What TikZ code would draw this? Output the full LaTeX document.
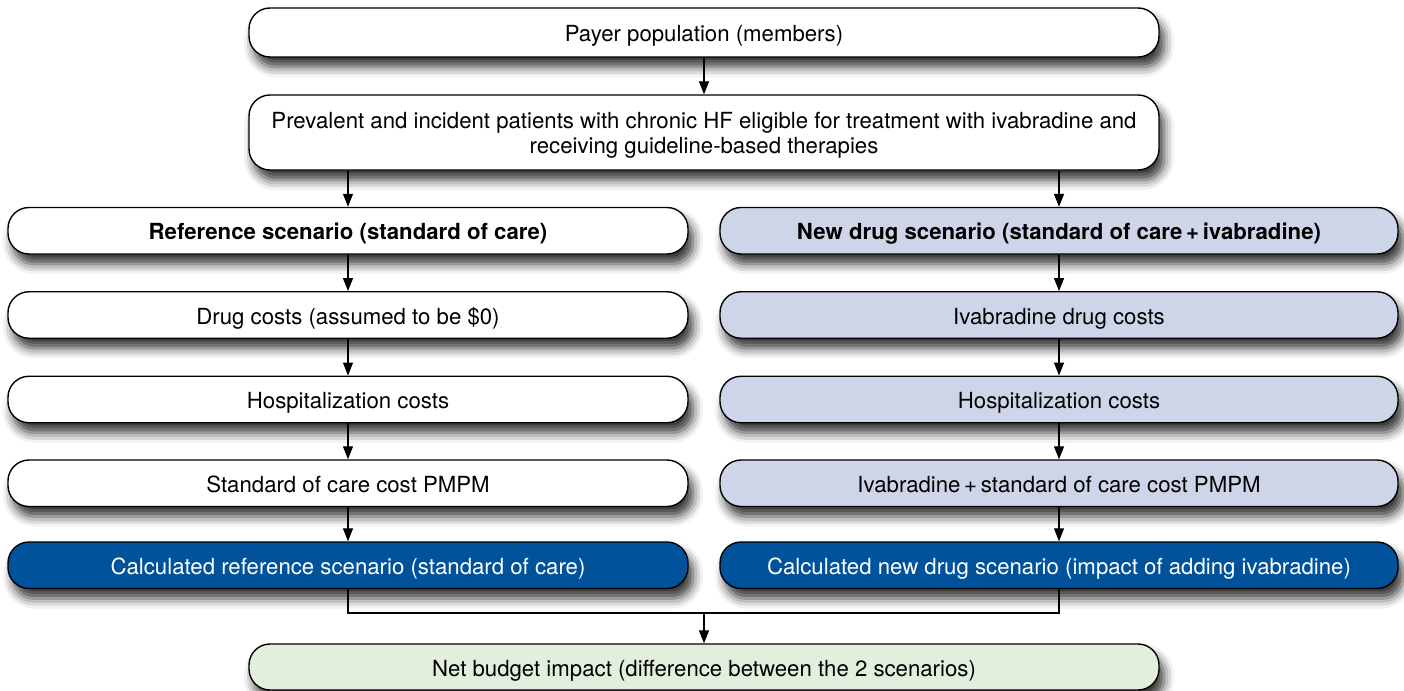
\documentclass[tikz,border=0pt]{standalone}
\usepackage{fontspec}
\setmainfont{TeX Gyre Heros}
\usetikzlibrary{arrows.meta,shadows.blur}
\definecolor{refblue}{RGB}{207,213,232}
\definecolor{calcblue}{RGB}{0,82,155}
\definecolor{netgreen}{RGB}{226,239,220}
\tikzset{
  flowbox/.style={draw=black, line width=1.4pt, rounded corners=21pt, fill=white,
    font=\fontsize{22.2}{25}\selectfont, align=center, inner sep=0pt,
    text height=18pt, text depth=0pt,
    blur shadow={shadow xshift=5pt, shadow yshift=-10pt, shadow blur radius=10pt, shadow opacity=80}},
  refbox/.style={flowbox, fill=refblue},
  calcbox/.style={flowbox, fill=calcblue, text=white},
  netbox/.style={flowbox, fill=netgreen},
  flowarrow/.style={draw=black, line width=1.2pt, -{Triangle[length=13pt,width=10pt]}},
  flowline/.style={draw=black, line width=1.2pt}
}
\begin{document}
\begin{tikzpicture}[x=1pt,y=-1pt]
\useasboundingbox (0,0) rectangle (1404,690);

% top of the flow
\node[flowbox, minimum width=910pt, minimum height=49pt] (payer) at (704,32.5) {Payer population (members)};
\node[flowbox, minimum width=910pt, minimum height=75pt, text height=42pt] (eligible) at (704,132.5)
  {Prevalent and incident patients with chronic HF eligible for treatment with ivabradine and\\receiving guideline-based therapies};

% reference scenario column
\node[flowbox, minimum width=680pt, minimum height=46.5pt] (refscen) at (348,230.75) {\bfseries Reference scenario (standard of care)};
\node[flowbox, minimum width=680pt, minimum height=46.5pt] (refdrug) at (348,315) {Drug costs (assumed to be \$0)};
\node[flowbox, minimum width=680pt, minimum height=46.5pt] (refhosp) at (348,399.5) {Hospitalization costs};
\node[flowbox, minimum width=680pt, minimum height=46.5pt] (refpmpm) at (348,483.25) {Standard of care cost PMPM};
\node[calcbox, minimum width=680pt, minimum height=46.5pt] (refcalc) at (348,565.25) {Calculated reference scenario (standard of care)};

% new drug scenario column
\node[refbox, minimum width=678pt, minimum height=46.5pt] (newscen) at (1059,230.75) {\bfseries New drug scenario (standard of care\,+\,ivabradine)};
\node[refbox, minimum width=678pt, minimum height=46.5pt] (newdrug) at (1059,315) {Ivabradine drug costs};
\node[refbox, minimum width=678pt, minimum height=46.5pt] (newhosp) at (1059,399.5) {Hospitalization costs};
\node[refbox, minimum width=678pt, minimum height=46.5pt] (newpmpm) at (1059,483.25) {Ivabradine\,+\,standard of care cost PMPM};
\node[calcbox, minimum width=678pt, minimum height=46.5pt] (newcalc) at (1059,565.25) {Calculated new drug scenario (impact of adding ivabradine)};

% result
\node[netbox, minimum width=910pt, minimum height=46pt] (net) at (704,667) {Net budget impact (difference between the 2 scenarios)};

% connectors
\draw[flowarrow] (payer) -- (eligible);
\draw[flowarrow] (eligible.south -| refscen.north) -- (refscen.north);
\draw[flowarrow] (eligible.south -| newscen.north) -- (newscen.north);
\draw[flowarrow] (refscen) -- (refdrug);
\draw[flowarrow] (refdrug) -- (refhosp);
\draw[flowarrow] (refhosp) -- (refpmpm);
\draw[flowarrow] (refpmpm) -- (refcalc);
\draw[flowarrow] (newscen) -- (newdrug);
\draw[flowarrow] (newdrug) -- (newhosp);
\draw[flowarrow] (newhosp) -- (newpmpm);
\draw[flowarrow] (newpmpm) -- (newcalc);
\coordinate (join) at (704,613);
\draw[flowline] (refcalc.south) |- (join) -| (newcalc.south);
\draw[flowarrow] (join) -- (net.north);
\end{tikzpicture}
\end{document}
